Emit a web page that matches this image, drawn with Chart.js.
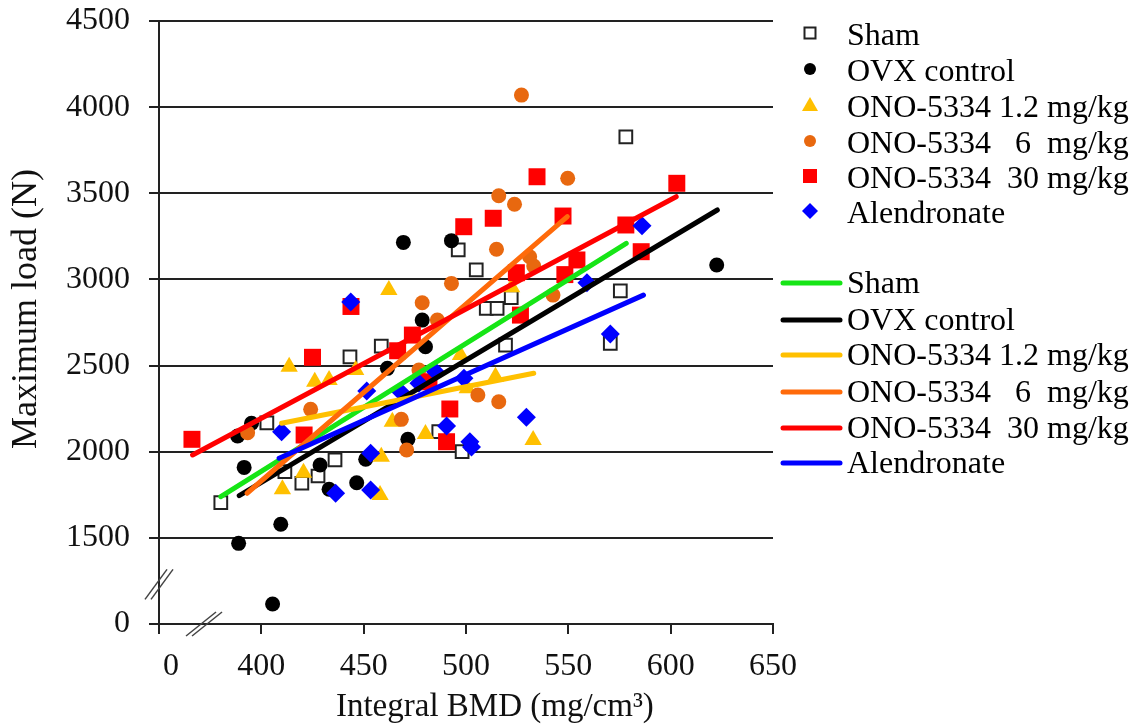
<!DOCTYPE html>
<html>
<head>
<meta charset="utf-8">
<script src="https://cdn.jsdelivr.net/npm/chart.js@4"></script>
<style>
  html, body { margin: 0; padding: 0; background: #fff; }
</style>
</head>
<body>
<canvas id="chart" width="1145" height="727"></canvas>
<script>
// group names (legend order)
const groups = ['Sham', 'OVX control', 'ONO-5334 1.2 mg/kg', 'ONO-5334   6  mg/kg', 'ONO-5334  30 mg/kg', 'Alendronate'];

// points: [BMD, max load]
const sham = [[380.2,1704],[402.7,2168],[411.5,1884],[419.8,1817],[427.7,1859],[436.0,1952],[443.3,2551],
  [458.6,2613],[486.7,2116],[496.2,3171],[505.0,3055],[509.9,2832],[515.2,2832],[522.1,2894],[519.3,2619],
  [498.1,2000],[578.1,3828],[575.4,2934],[570.5,2629]];
const ovx = [[388.4,2091],[395.2,2165],[391.6,1909],[428.7,1923],[405.5,1116],[409.5,1579],[388.9,1468],
  [433.1,1782],[446.6,1820],[451.0,1956],[461.6,2484],[471.6,2072],[469.4,3215],[492.9,3225],[478.6,2764],
  [480.2,2609],[502.2,2039],[622.5,3084]];
const ono12 = [[413.6,2493],[426.1,2406],[433.1,2416],[446.1,2474],[462.3,2938],[497.3,2561],[514.4,2435],
  [500.6,2368],[464.0,2174],[480.2,2103],[458.6,1971],[458.0,1749],[410.3,1782],[420.6,1878],[532.8,2068],
  [522.3,2955]];
const ono6 = [[424.1,2246],[393.3,2110],[478.6,2865],[486.0,2764],[492.9,2977],[477.0,2474],[468.4,2188],
  [471.0,2010],[505.8,2329],[516.0,2290],[514.9,3175],[516.0,3486],[523.7,3436],[527.1,4070],[531.1,3132],
  [533.1,3078],[542.5,2909],[549.7,3587]];
const ono30 = [[366.1,2072],[425.0,2548],[420.9,2097],[443.8,2843],[466.6,2586],[473.8,2677],[481.9,2406],
  [492.1,2248],[490.5,2058],[498.9,3306],[513.3,3355],[524.6,3039],[526.6,2793],[534.7,3596],[547.4,3368],
  [548.3,3028],[554.2,3113],[578.1,3316],[585.6,3161],[603.0,3558]];
const alen = [[409.9,2116],[443.7,2869],[451.5,2352],[453.4,1991],[453.4,1778],[436.3,1759],[468.0,2348],
  [477.0,2397],[485.1,2464],[490.5,2149],[499.0,2426],[501.9,2058],[502.7,2027],[529.5,2200],[559.1,2981],
  [570.5,2683],[586.0,3312]];

// regression line end points
const shamFit  = [[380.2,1739],[578.3,3209]];
const ovxFit   = [[389.2,1745],[622.8,3403]];
const ono12Fit = [[409.9,2165],[533.1,2455]];
const ono6Fit  = [[393.0,1759],[549.5,3364]];
const ono30Fit = [[366.4,1981],[602.7,3480]];
const alenFit  = [[408.7,1962],[586.7,2909]];

// axis ticks (the lowest one is shown as 0, axis is broken)
const xTicks = [350, 400, 450, 500, 550, 600, 650];
const yTicks = [1000, 1500, 2000, 2500, 3000, 3500, 4000, 4500];

const pts = arr => arr.map(p => ({ x: p[0], y: p[1] }));
const FONT = 'Liberation Serif';

const markers = [
  { style: 'rect', r: 9, bg: '#fff', border: '#222', bw: 2 },
  { style: 'circle', r: 7.5, bg: '#000', border: '#000', bw: 0 },
  { style: 'triangle', r: 10, bg: '#ffc000', border: '#ffc000', bw: 0 },
  { style: 'circle', r: 7.5, bg: '#e8680f', border: '#e8680f', bw: 0 },
  { style: 'rect', r: 12, bg: '#ff0000', border: '#ff0000', bw: 0 },
  { style: 'rectRot', r: 9.5, bg: '#0000ff', border: '#0000ff', bw: 0 }
];
const lineColors = ['#16e516', '#000000', '#ffc000', '#ff6a0a', '#ff0000', '#0000ff'];

const scatterData = [sham, ovx, ono12, ono6, ono30, alen];
const fitData = [shamFit, ovxFit, ono12Fit, ono6Fit, ono30Fit, alenFit];

const datasets = [];
fitData.forEach((d, i) => {
  datasets.push({
    label: groups[i] + ' fit',
    data: pts(d),
    showLine: true,
    borderColor: lineColors[i],
    borderWidth: 5,
    borderCapStyle: 'round',
    pointRadius: 0,
    order: 5 - i
  });
});
scatterData.forEach((d, i) => {
  const m = markers[i];
  datasets.push({
    label: groups[i],
    data: pts(d),
    pointStyle: m.style,
    pointRadius: m.r,
    backgroundColor: m.bg,
    borderColor: m.border,
    borderWidth: m.bw,
    order: 11 - i
  });
});

// legend and axis break marks
const extras = {
  id: 'extras',
  afterDraw(chart) {
    const ctx = chart.ctx;
    const xs = chart.scales.x, ys = chart.scales.y;
    ctx.save();

    // break marks
    ctx.strokeStyle = '#444';
    ctx.lineWidth = 1.5;
    const by = ys.getPixelForValue(1230), bx = xs.getPixelForValue(372);
    const ax = chart.chartArea.left, ay = chart.chartArea.bottom;
    [-3, 3].forEach(o => {
      ctx.beginPath();
      ctx.moveTo(ax - 11 + o, by + 15);
      ctx.lineTo(ax + 11 + o, by - 15);
      ctx.stroke();
      ctx.beginPath();
      ctx.moveTo(bx - 15 + o, ay + 12);
      ctx.lineTo(bx + 15 + o, ay - 12);
      ctx.stroke();
    });

    // legend: markers
    ctx.font = '32px "' + FONT + '"';
    ctx.fillStyle = '#000';
    ctx.textBaseline = 'alphabetic';
    const rows1 = [35, 71, 107, 143, 178, 213];
    groups.forEach((g, i) => {
      const m = markers[i], cx = 810, cy = rows1[i] - 2;
      ctx.fillStyle = m.bg;
      ctx.strokeStyle = m.border;
      ctx.lineWidth = 2;
      ctx.beginPath();
      if (m.style === 'circle') {
        ctx.arc(cx, cy, 6, 0, Math.PI * 2);
        ctx.fill();
      } else if (m.style === 'rect') {
        const s = i === 0 ? 11 : 14;
        ctx.rect(cx - s / 2, cy - s / 2, s, s);
        ctx.fill();
        if (i === 0) ctx.stroke();
      } else if (m.style === 'triangle') {
        ctx.moveTo(cx, cy - 8); ctx.lineTo(cx + 8, cy + 6); ctx.lineTo(cx - 8, cy + 6); ctx.closePath();
        ctx.fill();
      } else {
        ctx.moveTo(cx, cy - 8); ctx.lineTo(cx + 8, cy); ctx.lineTo(cx, cy + 8); ctx.lineTo(cx - 8, cy); ctx.closePath();
        ctx.fill();
      }
      ctx.fillStyle = '#000';
      ctx.fillText(g, 847, rows1[i] + 10);
    });

    // legend: lines
    const rows2 = [283, 320, 355, 392, 428, 463];
    groups.forEach((g, i) => {
      ctx.strokeStyle = lineColors[i];
      ctx.lineWidth = 5;
      ctx.lineCap = 'round';
      ctx.beginPath();
      ctx.moveTo(783, rows2[i]);
      ctx.lineTo(840, rows2[i]);
      ctx.stroke();
      ctx.fillStyle = '#000';
      ctx.fillText(g, 847, rows2[i] + 10);
    });
    ctx.restore();
  }
};

new Chart(document.getElementById('chart'), {
  type: 'scatter',
  data: { datasets: datasets },
  options: {
    responsive: false,
    animation: false,
    layout: { padding: { left: 0, top: 21, right: 372, bottom: 0 } },
    plugins: { legend: { display: false }, tooltip: { enabled: false } },
    scales: {
      x: {
        type: 'linear',
        min: 350,
        max: 650,
        afterBuildTicks: s => { s.ticks = xTicks.map(v => ({ value: v })); },
        afterFit: s => { s.height = 103; s.paddingLeft = 0; s.paddingRight = 0; },
        border: { color: '#222', width: 2 },
        grid: { drawOnChartArea: false, color: '#222', lineWidth: 2, tickLength: 10 },
        ticks: {
          font: { family: FONT, size: 32 },
          color: '#111',
          padding: 13,
          maxRotation: 0,
          autoSkip: false,
          callback: v => v === 350 ? '   0' : String(v)
        },
        title: {
          display: true,
          text: '       Integral BMD (mg/cm³)',
          font: { family: FONT, size: 33 },
          color: '#111',
          padding: { top: 0, bottom: 0 }
        }
      },
      y: {
        type: 'linear',
        min: 1000,
        max: 4500,
        afterBuildTicks: s => { s.ticks = yTicks.map(v => ({ value: v })); },
        afterFit: s => { s.width = 159; s.paddingTop = 0; s.paddingBottom = 0; },
        border: { color: '#222', width: 2 },
        grid: { color: '#222', lineWidth: 2, tickLength: 10 },
        ticks: {
          font: { family: FONT, size: 32 },
          color: '#111',
          padding: 19,
          autoSkip: false,
          callback: v => v === 1000 ? '0' : String(v)
        },
        title: {
          display: true,
          text: '   Maximum load (N)',
          font: { family: FONT, size: 36 },
          color: '#111',
          padding: { top: 5, bottom: 0 }
        }
      }
    }
  },
  plugins: [extras]
});
</script>
</body>
</html>
